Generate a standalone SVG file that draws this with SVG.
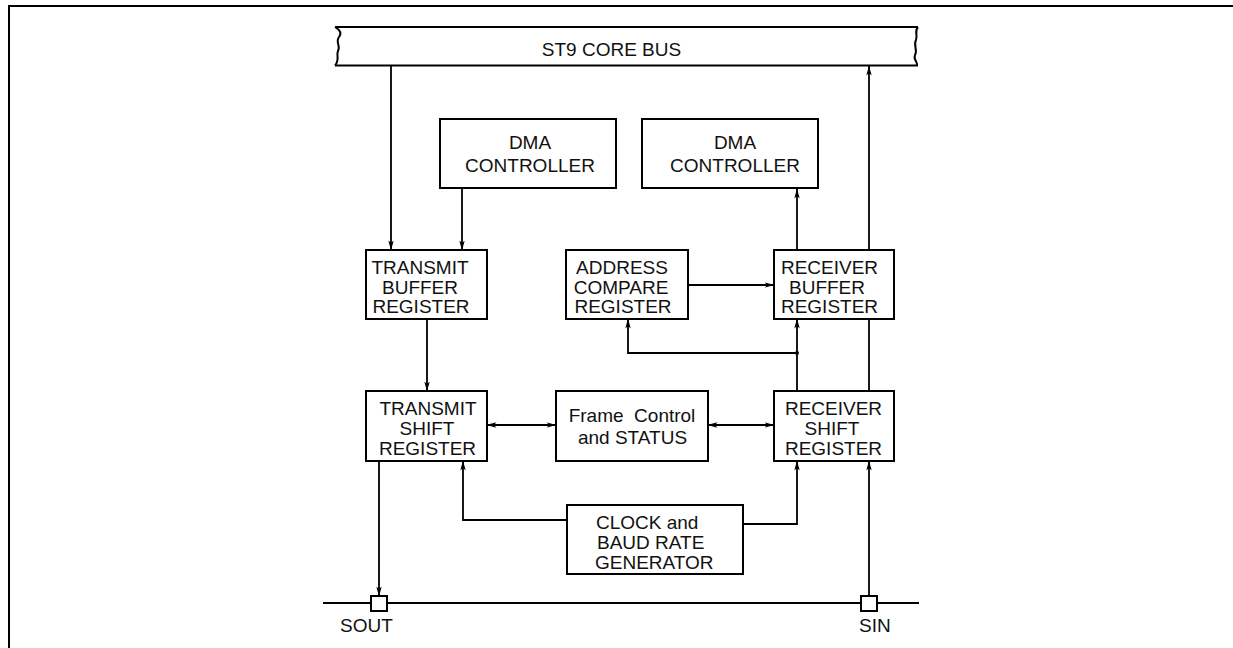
<svg xmlns="http://www.w3.org/2000/svg" width="1233" height="648" viewBox="0 0 1233 648">
<style>
.box{fill:#fff;stroke:#000;stroke-width:2}
.ln{fill:none;stroke:#000;stroke-width:2}
.cn{fill:none;stroke:#000;stroke-width:1.8}
text{font-family:"Liberation Sans",Arial,sans-serif;font-size:19px;fill:#111}
.c{text-anchor:middle}
</style>
<defs>
<marker id="ah" viewBox="0 0 10 6" refX="9.5" refY="3" markerWidth="10" markerHeight="6" markerUnits="userSpaceOnUse" orient="auto-start-reverse">
<path d="M0,0.3 L10,3 L0,5.7 L2.5,3 z" fill="#000"/>
</marker>
</defs>
<rect width="1233" height="648" fill="#fff"/>
<g id="frame">
<path class="ln" d="M9,648 V6 H1233"/>
</g>
<g id="bus">
<rect x="336" y="27" width="580" height="38.5" fill="#fff"/>
<path class="ln" d="M335,27 H918 M335,65.5 H918"/>
<path class="ln" d="M335,27 C340,30 342,33 339,37 C335,42 341,46 338,51 C336,55 340,60 335,65.5"/>
<path class="ln" d="M918,27 C914,31 918,35 916,40 C913,45 918,50 915,55 C913,60 918,62 917,65.5"/>
<text class="c" x="611.5" y="56">ST9 CORE BUS</text>
</g>
<g id="connectors">
<line class="cn" x1="391" y1="66" x2="391" y2="250" marker-end="url(#ah)"/>
<line class="cn" x1="462" y1="189" x2="462" y2="250" marker-end="url(#ah)"/>
<line class="cn" x1="427" y1="319" x2="427" y2="391" marker-end="url(#ah)"/>
<line class="cn" x1="797" y1="250" x2="797" y2="189" marker-end="url(#ah)"/>
<line class="cn" x1="869" y1="250" x2="869" y2="66" marker-end="url(#ah)"/>
<line class="cn" x1="688" y1="285" x2="774" y2="285" marker-end="url(#ah)"/>
<line class="cn" x1="797" y1="391" x2="797" y2="319" marker-end="url(#ah)"/>
<path class="cn" d="M797,353 H628 V319" marker-end="url(#ah)"/>
<circle cx="797" cy="353" r="2" fill="#000"/>
<line class="cn" x1="869" y1="391" x2="869" y2="319"/>
<line class="cn" x1="487" y1="425" x2="556" y2="425" marker-start="url(#ah)" marker-end="url(#ah)"/>
<line class="cn" x1="708" y1="425" x2="774" y2="425" marker-start="url(#ah)" marker-end="url(#ah)"/>
<path class="cn" d="M567,520 H463 V461" marker-end="url(#ah)"/>
<path class="cn" d="M743,524 H797 V461" marker-end="url(#ah)"/>
<line class="cn" x1="379" y1="461" x2="379" y2="596" marker-end="url(#ah)"/>
<line class="cn" x1="869" y1="596" x2="869" y2="461" marker-end="url(#ah)"/>
<path class="ln" d="M323,603 H371 M387,603 H861 M877,603 H919"/>
</g>
<g id="dma-tx">
<rect class="box" x="440" y="119" width="176" height="69"/>
<text class="c" x="530" y="149">DMA</text>
<text class="c" x="530" y="172">CONTROLLER</text>
</g>
<g id="dma-rx">
<rect class="box" x="642" y="119" width="176" height="69"/>
<text class="c" x="735" y="149">DMA</text>
<text class="c" x="735" y="172">CONTROLLER</text>
</g>
<g id="tx-buffer">
<rect class="box" x="366" y="250" width="121" height="69"/>
<text class="c" x="420" y="274">TRANSMIT</text>
<text class="c" x="420" y="294">BUFFER</text>
<text class="c" x="421" y="313">REGISTER</text>
</g>
<g id="address-compare">
<rect class="box" x="566" y="250" width="122" height="69"/>
<text class="c" x="622" y="274">ADDRESS</text>
<text class="c" x="621" y="294">COMPARE</text>
<text class="c" x="623" y="313">REGISTER</text>
</g>
<g id="rx-buffer">
<rect class="box" x="774" y="250" width="120" height="69"/>
<text class="c" x="829.5" y="274">RECEIVER</text>
<text class="c" x="827" y="294">BUFFER</text>
<text class="c" x="829.5" y="313">REGISTER</text>
</g>
<g id="tx-shift">
<rect class="box" x="366" y="391" width="121" height="70"/>
<text class="c" x="428" y="415">TRANSMIT</text>
<text class="c" x="427" y="435">SHIFT</text>
<text class="c" x="427.5" y="455">REGISTER</text>
</g>
<g id="frame-control">
<rect class="box" x="556" y="391" width="152" height="70"/>
<text class="c" x="632" y="422" xml:space="preserve">Frame  Control</text>
<text class="c" x="632.5" y="444">and STATUS</text>
</g>
<g id="rx-shift">
<rect class="box" x="774" y="391" width="120" height="70"/>
<text class="c" x="833.5" y="415">RECEIVER</text>
<text class="c" x="832" y="435">SHIFT</text>
<text class="c" x="833.5" y="455">REGISTER</text>
</g>
<g id="clock">
<rect class="box" x="567" y="505" width="176" height="69"/>
<text x="596" y="529">CLOCK and</text>
<text x="597" y="549">BAUD RATE</text>
<text x="595" y="569">GENERATOR</text>
</g>
<g id="sout">
<rect class="box" x="371" y="596" width="16" height="15"/>
<text x="340" y="632">SOUT</text>
</g>
<g id="sin">
<rect class="box" x="861" y="596" width="16" height="15"/>
<text x="859" y="632">SIN</text>
</g>
</svg>
